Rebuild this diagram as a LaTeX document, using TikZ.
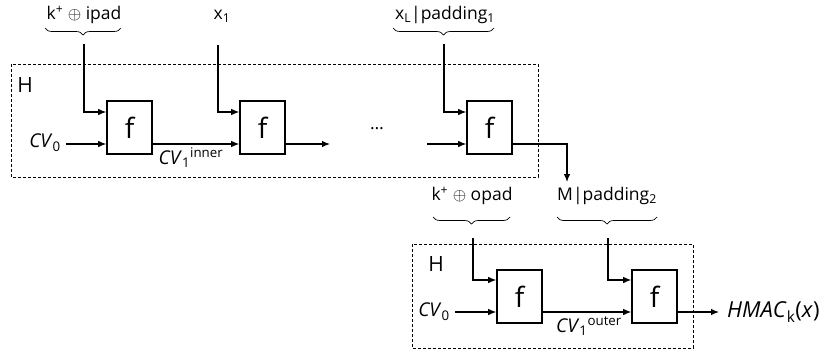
\documentclass[tikz,border=0pt]{standalone}
\usepackage{fontspec}
\setmainfont{Open Sans}
\usetikzlibrary{arrows.meta,decorations.pathreplacing,calc}
\begin{document}
\begin{tikzpicture}[x=1pt,y=-1pt,
  fbox/.style={draw,line width=1.6pt,minimum width=45pt,minimum height=53pt,inner sep=0pt,font=\fontsize{28}{30}\selectfont},
  arr/.style={line width=1.1pt,-{Latex[length=8pt,width=6.5pt]}},
  hbox/.style={draw,line width=0.6pt,dash pattern=on 3pt off 2pt},
  lbl/.style={font=\fontsize{17.5}{19}\selectfont,inner sep=0pt},
  hl/.style={font=\fontsize{21}{23}\selectfont,inner sep=0pt},
  cv/.style={font=\fontsize{19}{21}\selectfont,inner sep=0pt},
  brc/.style={decorate,decoration={brace,mirror,amplitude=7pt},line width=0.7pt},
]
\useasboundingbox (0,0) rectangle (834,351);
% hash boxes
\draw[hbox] (11,64) rectangle (538,177);
\draw[hbox] (412,244) rectangle (693,348);
\node[hl] (H1) at (25,85) {H};
\node[hl] (H2) at (436,264) {H};
% compression boxes
\node[fbox] (f1) at (129.5,127.5) {f};
\node[fbox] (f2) at (262.5,127.5) {f};
\node[fbox] (f3) at (489.5,127.5) {f};
\node[fbox] (f4) at (519.5,296.5) {f};
\node[fbox] (f5) at (654.5,296.5) {f};
% top labels
\node[lbl] (kipad) at (84,15) {k\textsuperscript{+} $\oplus$ ipad};
\node[lbl] (x1) at (222,16) {x\textsubscript{1}};
\node[lbl] (xL) at (445,15) {x\textsubscript{L}|padding\textsubscript{1}};
\node[lbl] (kopad) at (472,196) {k\textsuperscript{+} $\oplus$ opad};
\node[lbl] (Mpad) at (607,196) {M|padding\textsubscript{2}};
% braces
\coordinate (b1a) at (45,28); \coordinate (b1b) at (121,28);
\coordinate (b3a) at (393,28); \coordinate (b3b) at (494,28);
\coordinate (b4a) at (433,217); \coordinate (b4b) at (510,217);
\coordinate (b5a) at (557,217); \coordinate (b5b) at (657,217);
\draw[brc] (b1a) -- (b1b);
\draw[brc] (b3a) -- (b3b);
\draw[brc] (b4a) -- (b4b);
\draw[brc] (b5a) -- (b5b);
% line starts
\coordinate (s1) at (84,44);
\coordinate (s2) at (218,45);
\coordinate (s3) at (444,44);
\coordinate (s4) at (473,238);
\coordinate (s5) at (608,238);
\draw[arr] (s1) |- ($(f1.west)+(0,-15.5)$);
\draw[arr] (s2) |- ($(f2.west)+(0,-15.5)$);
\draw[arr] (s3) |- ($(f3.west)+(0,-15.5)$);
\draw[arr] (s4) |- ($(f4.west)+(0,-16.5)$);
\draw[arr] (s5) |- ($(f5.west)+(0,-16.5)$);
% chaining values
\node[cv] (cv0a) at (45,143) {\textit{CV}\textsubscript{0}};
\node[cv] (cv0b) at (434,312) {\textit{CV}\textsubscript{0}};
\draw[arr] (cv0a.east) ++(5,1) coordinate (c0a) -- (c0a -| f1.west);
\draw[arr] (cv0b.east) ++(5,0) coordinate (c0b) -- (c0b -| f4.west);
\draw[arr] ($(f1.east)+(0,16.5)$) -- ($(f2.west)+(0,16.5)$);
\node[cv,anchor=north] (cv1i) at (191,148) {\textit{CV}\textsubscript{1}\textsuperscript{inner}};
\coordinate (o2) at (330,144);
\draw[arr] ($(f2.east)+(0,16.5)$) -- (o2);
\node[lbl] (dots) at (377,129) {\dots};
\coordinate (i3) at (427,144);
\draw[arr] (i3) -- ($(f3.west)+(0,16.5)$);
\coordinate (d3) at (567,182);
\draw[arr] ($(f3.east)+(0,16.5)$) -| (d3);
\draw[arr] ($(f4.east)+(0,15.5)$) -- ($(f5.west)+(0,15.5)$);
\node[cv,anchor=north] (cv1o) at (589,317) {\textit{CV}\textsubscript{1}\textsuperscript{outer}};
\node[cv,anchor=west,inner xsep=8pt,font=\fontsize{22}{24}\selectfont] (hmac) at (719,312) {\textit{HMAC}\textsubscript{k}(\textit{x})};
\draw[arr] ($(f5.east)+(0,15.5)$) -- (hmac.west);
\end{tikzpicture}
\end{document}
